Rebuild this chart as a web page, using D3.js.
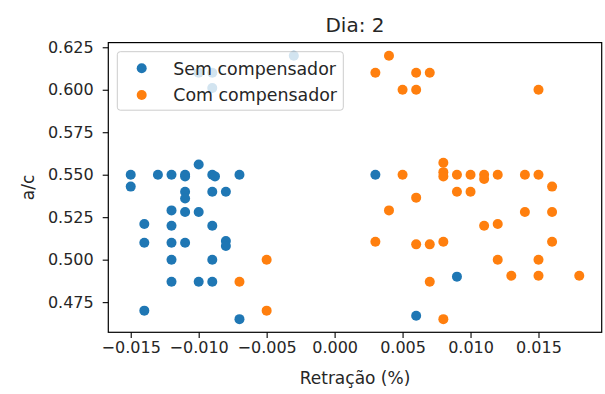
<!DOCTYPE html>
<html>
<head>
<meta charset="utf-8">
<script src="https://cdn.jsdelivr.net/npm/d3@7"></script>
<style>
  html, body { margin: 0; padding: 0; background: #fff; }
  svg { display: block; font-family: "DejaVu Sans", sans-serif; }
</style>
</head>
<body>
<svg id="chart" width="605" height="394"></svg>
<script>
// Series: retração (%) vs a/c
const semX = [-0.003, -0.010, -0.009, -0.009, -0.010, -0.015, -0.013, -0.012, -0.011, -0.011,
  -0.009, -0.0088, -0.007, -0.015, -0.011, -0.011, -0.009, -0.008, -0.012, -0.011, -0.010,
  -0.014, -0.012, -0.009, -0.014, -0.012, -0.011, -0.008, -0.008, -0.012, -0.009,
  -0.012, -0.010, -0.009, -0.014, -0.007, 0.003, 0.009, 0.006];
const semY = [0.620, 0.610, 0.610, 0.601, 0.556, 0.550, 0.550, 0.550, 0.550, 0.549,
  0.550, 0.549, 0.550, 0.543, 0.540, 0.536, 0.540, 0.540, 0.529, 0.528, 0.528,
  0.521, 0.520, 0.520, 0.510, 0.510, 0.510, 0.511, 0.508, 0.500, 0.500,
  0.487, 0.487, 0.487, 0.470, 0.465, 0.550, 0.490, 0.467];

const comX = [0.004, 0.003, 0.006, 0.007, 0.005, 0.006, 0.015, 0.008, 0.005, 0.008,
  0.008, 0.009, 0.010, 0.011, 0.011, 0.012, 0.014, 0.015, 0.016, 0.009, 0.010,
  0.006, 0.004, 0.014, 0.016, 0.011, 0.012, 0.003, 0.006, 0.007, 0.008, 0.016,
  0.012, 0.015, 0.013, 0.015, 0.018, 0.007, -0.005, -0.007, -0.005, 0.008];
const comY = [0.620, 0.610, 0.610, 0.610, 0.600, 0.600, 0.600, 0.557, 0.550, 0.5515,
  0.549, 0.550, 0.550, 0.550, 0.5475, 0.550, 0.550, 0.550, 0.543, 0.540, 0.540,
  0.5365, 0.529, 0.528, 0.528, 0.520, 0.521, 0.5105, 0.509, 0.509, 0.5105, 0.5105,
  0.500, 0.500, 0.4905, 0.4905, 0.4905, 0.487, 0.500, 0.487, 0.470, 0.465];

const seriesNames = ["Sem compensador", "Com compensador"];
const seriesColors = ["#1f77b4", "#ff7f0e"];
const xTicks = [-0.015, -0.010, -0.005, 0.000, 0.005, 0.010, 0.015];
const yTicks = [0.475, 0.500, 0.525, 0.550, 0.575, 0.600, 0.625];
const titleText = "Dia: 2";
const xLabel = "Retração (%)";
const yLabel = "a/c";

const series = [
  { name: seriesNames[0], color: seriesColors[0], pts: semX.map((x, i) => [x, semY[i]]) },
  { name: seriesNames[1], color: seriesColors[1], pts: comX.map((x, i) => [x, comY[i]]) }
];

// Plot box
const boxL = 108.3, boxR = 601.7, boxT = 42.6, boxB = 332.3;
const dotR = 5;

// Domains padded by 5% of the data span on each side
function padded(vals) {
  const [lo, hi] = d3.extent(vals);
  const m = (hi - lo) * 0.05;
  return [lo - m, hi + m];
}
const x = d3.scaleLinear().domain(padded(semX.concat(comX))).range([boxL, boxR]);
const y = d3.scaleLinear().domain(padded(semY.concat(comY))).range([boxB, boxT]);

const svg = d3.select("#chart");
const minus = s => s.replace("-", "\u2212");

// Axes
const xAxis = d3.axisBottom(x).tickValues(xTicks).tickSize(5.6).tickPadding(4)
  .tickFormat(d => minus(d3.format(".3f")(d)));
const yAxis = d3.axisLeft(y).tickValues(yTicks).tickSize(5.6).tickPadding(9)
  .tickFormat(d3.format(".3f"));

const gx = svg.append("g").attr("transform", `translate(0,${boxB})`).call(xAxis);
const gy = svg.append("g").attr("transform", `translate(${boxL},0)`).call(yAxis);
[gx, gy].forEach(g => {
  g.select(".domain").remove();
  g.selectAll(".tick line").attr("stroke", "#000").attr("stroke-width", 1.1);
  g.selectAll(".tick text").attr("fill", "#262626").style("font-size", "16px")
    .style("font-family", "'DejaVu Sans', sans-serif");
});

// Points
series.forEach(s => {
  svg.append("g").selectAll("circle").data(s.pts).join("circle")
    .attr("cx", d => x(d[0])).attr("cy", d => y(d[1])).attr("r", dotR)
    .attr("fill", s.color);
});

// Frame
svg.append("rect").attr("x", boxL).attr("y", boxT)
  .attr("width", boxR - boxL).attr("height", boxB - boxT)
  .attr("fill", "none").attr("stroke", "#000").attr("stroke-width", 1.2);

// Title and axis labels
svg.append("text").attr("x", (boxL + boxR) / 2).attr("y", 31.5)
  .attr("text-anchor", "middle").attr("fill", "#262626")
  .style("font-size", "20px").text(titleText);
svg.append("text").attr("x", (boxL + boxR) / 2).attr("y", 383.5)
  .attr("text-anchor", "middle").attr("fill", "#262626")
  .style("font-size", "17px").text(xLabel);
svg.append("text").attr("transform", `translate(33.5,${(boxT + boxB) / 2}) rotate(-90)`)
  .attr("text-anchor", "middle").attr("fill", "#262626")
  .style("font-size", "17px").text(yLabel);

// Legend
const lg = svg.append("g");
lg.append("rect").attr("x", 117.3).attr("y", 51.7).attr("width", 226).attr("height", 58.5)
  .attr("rx", 3).attr("fill", "#fff").attr("fill-opacity", 0.8)
  .attr("stroke", "#cccccc").attr("stroke-width", 1);
series.forEach((s, i) => {
  const cy = 68.3 + i * 26.7;
  lg.append("circle").attr("cx", 141.7).attr("cy", cy).attr("r", dotR).attr("fill", s.color);
  lg.append("text").attr("x", 173.3).attr("y", cy + 6.2).attr("fill", "#262626")
    .style("font-size", "17.4px").text(s.name);
});
</script>
</body>
</html>
